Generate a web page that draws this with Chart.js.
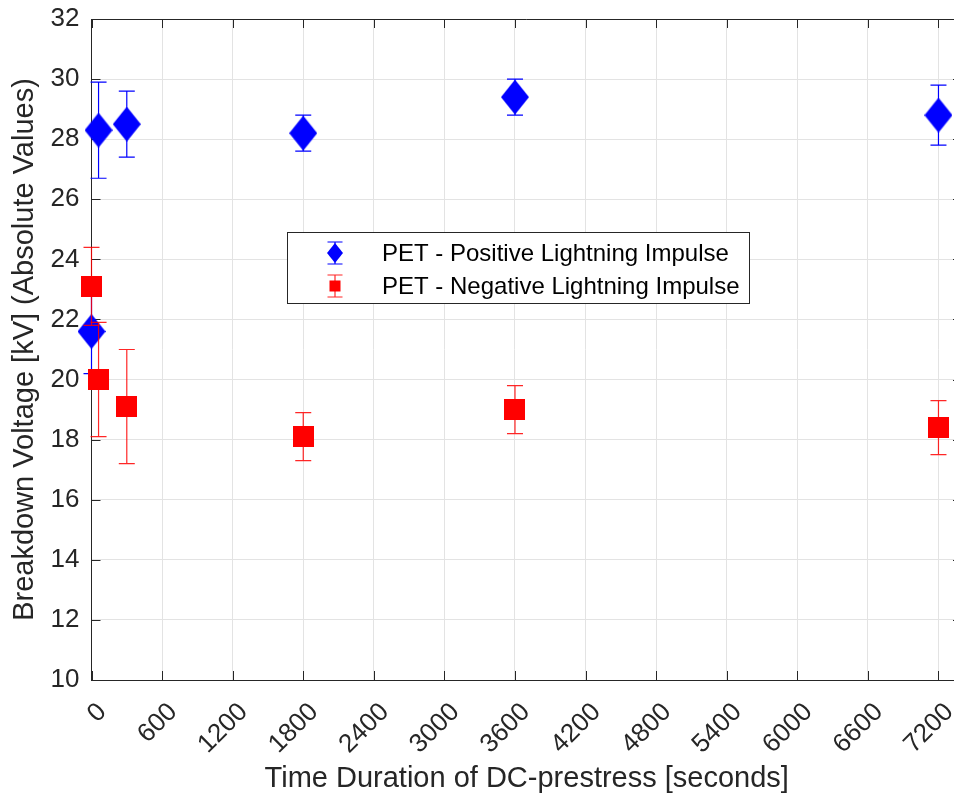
<!DOCTYPE html>
<html><head><meta charset="utf-8">
<script src="https://cdn.jsdelivr.net/npm/chart.js@4"></script>
<style>html,body{margin:0;padding:0;overflow:hidden;background:#fff}canvas{display:block}</style>
</head><body><canvas id="c" width="962" height="796" style="width:962px;height:796px"></canvas>
<script>
// ---- data ----
const timeSeconds = [0, 60, 300, 1800, 3600, 7200];
const positiveLI = [21.6, 28.3, 28.5, 28.2, 29.4, 28.8];
const positiveErr = [1.4, 1.6, 1.1, 0.6, 0.6, 1.0];
const negativeLI = [23.1, 20.0, 19.1, 18.1, 19.0, 18.4];
const negativeErr = [1.3, 1.9, 1.9, 0.8, 0.8, 0.9];
const xTicks = [0, 600, 1200, 1800, 2400, 3000, 3600, 4200, 4800, 5400, 6000, 6600, 7200];
const yTicks = [10, 12, 14, 16, 18, 20, 22, 24, 26, 28, 30, 32];
const seriesLabels = ['PET - Positive Lightning Impulse', 'PET - Negative Lightning Impulse'];
const xTitle = 'Time Duration of DC-prestress [seconds]';
const yTitle = 'Breakdown Voltage [kV] (Absolute Values)';

const FONT = "'Liberation Sans', Arial, sans-serif";
const AXC = '#262626';
const BLUE = '#0000ff';
const RED = '#ff0000';
const RED_BAR = 'rgba(255,0,0,0.85)';

function makeDiamond(w, h, color) {
  const c = document.createElement('canvas'); c.width = w; c.height = h;
  const g = c.getContext('2d'); g.fillStyle = color;
  g.beginPath(); g.moveTo(w/2, 0); g.lineTo(w, h/2); g.lineTo(w/2, h); g.lineTo(0, h/2); g.closePath(); g.fill();
  return c;
}
function makeSquare(s, color) {
  const c = document.createElement('canvas'); c.width = s; c.height = s;
  const g = c.getContext('2d'); g.fillStyle = color; g.fillRect(0, 0, s, s);
  return c;
}
const toPts = (xs, ys) => xs.map((x, i) => ({x: x, y: ys[i]}));

const errorBars = {
  id: 'errorBars',
  beforeDatasetDraw(chart, args) {
    const ds = chart.data.datasets[args.index];
    if (!ds.errors) return;
    const xs = chart.scales.x, ys = chart.scales.y, ctx = chart.ctx;
    ctx.save();
    ctx.strokeStyle = ds.errorColor; ctx.lineWidth = 1.2;
    ds.data.forEach((p, i) => {
      const px = xs.getPixelForValue(p.x);
      const yt = ys.getPixelForValue(p.y + ds.errors[i]);
      const yb = ys.getPixelForValue(p.y - ds.errors[i]);
      ctx.beginPath();
      ctx.moveTo(px, yt); ctx.lineTo(px, yb);
      ctx.moveTo(px - 8, yt); ctx.lineTo(px + 8, yt);
      ctx.moveTo(px - 8, yb); ctx.lineTo(px + 8, yb);
      ctx.stroke();
    });
    ctx.restore();
  }
};

const axesBox = {
  id: 'axesBox',
  beforeDatasetsDraw(chart) {
    const ca = chart.chartArea, ctx = chart.ctx, xs = chart.scales.x, ys = chart.scales.y;
    ctx.save();
    ctx.strokeStyle = AXC; ctx.lineWidth = 1;
    ctx.beginPath();
    ctx.moveTo(ca.left, Math.round(ca.top) + 0.5); ctx.lineTo(ca.right, Math.round(ca.top) + 0.5);
    ctx.moveTo(Math.round(ca.right) - 0.5, ca.top); ctx.lineTo(Math.round(ca.right) - 0.5, ca.bottom);
    xTicks.forEach(v => {
      const px = Math.round(xs.getPixelForValue(v)) + 0.5;
      ctx.moveTo(px, ca.bottom); ctx.lineTo(px, ca.bottom - 9);
      ctx.moveTo(px, ca.top); ctx.lineTo(px, ca.top + 9);
    });
    yTicks.forEach(v => {
      const py = Math.round(ys.getPixelForValue(v)) + 0.5;
      ctx.moveTo(ca.left, py); ctx.lineTo(ca.left + 9, py);
      ctx.moveTo(ca.right, py); ctx.lineTo(ca.right - 9, py);
    });
    ctx.stroke();
    ctx.restore();
  }
};

const boxLegend = {
  id: 'boxLegend',
  afterDraw(chart) {
    const ctx = chart.ctx;
    const L = 287.5, T = 232.5, W = 462, H = 71;
    ctx.save();
    ctx.fillStyle = '#fff'; ctx.fillRect(L, T, W, H);
    ctx.strokeStyle = AXC; ctx.lineWidth = 1; ctx.strokeRect(L, T, W, H);
    const mx = 335, r1 = 253, r2 = 286;
    ctx.strokeStyle = BLUE; ctx.lineWidth = 1.2;
    ctx.beginPath();
    ctx.moveTo(mx, r1 - 11); ctx.lineTo(mx, r1 + 11);
    ctx.moveTo(mx - 7.5, r1 - 11); ctx.lineTo(mx + 7.5, r1 - 11);
    ctx.moveTo(mx - 7.5, r1 + 11); ctx.lineTo(mx + 7.5, r1 + 11);
    ctx.stroke();
    ctx.fillStyle = BLUE;
    ctx.beginPath(); ctx.moveTo(mx, r1 - 10); ctx.lineTo(mx + 8, r1); ctx.lineTo(mx, r1 + 10); ctx.lineTo(mx - 8, r1); ctx.closePath(); ctx.fill();
    ctx.strokeStyle = RED_BAR;
    ctx.beginPath();
    ctx.moveTo(mx, r2 - 11); ctx.lineTo(mx, r2 + 11);
    ctx.moveTo(mx - 7.5, r2 - 11); ctx.lineTo(mx + 7.5, r2 - 11);
    ctx.moveTo(mx - 7.5, r2 + 11); ctx.lineTo(mx + 7.5, r2 + 11);
    ctx.stroke();
    ctx.fillStyle = RED; ctx.fillRect(mx - 5.5, r2 - 5.5, 11, 11);
    ctx.fillStyle = '#000'; ctx.font = '24px ' + FONT; ctx.textBaseline = 'middle'; ctx.textAlign = 'left';
    ctx.fillText(seriesLabels[0], 382, r1 + 1);
    ctx.fillText(seriesLabels[1], 382, r2 + 1);
    ctx.restore();
  }
};

Chart.defaults.font.family = FONT;
Chart.defaults.color = AXC;

new Chart(document.getElementById('c'), {
  type: 'scatter',
  data: {
    datasets: [
      { label: seriesLabels[0], data: toPts(timeSeconds, positiveLI), errors: positiveErr, errorColor: BLUE,
        pointStyle: makeDiamond(28, 35, BLUE), order: 1 },
      { label: seriesLabels[1], data: toPts(timeSeconds, negativeLI), errors: negativeErr, errorColor: RED_BAR,
        pointStyle: makeSquare(21, RED), order: 0 }
    ]
  },
  options: {
    responsive: false, animation: false,
    clip: false,
    layout: { padding: { top: 19, left: 0, right: 0, bottom: 0 }, autoPadding: false },
    plugins: { legend: { display: false }, tooltip: { enabled: false } },
    scales: {
      x: {
        type: 'linear', min: 0, max: 7400,
        afterBuildTicks: s => { s.ticks = xTicks.map(v => ({ value: v })); },
        afterFit: s => { s.height = 116; s.paddingLeft = 0; s.paddingRight = 0; },
        ticks: { minRotation: 45, maxRotation: 45, padding: 17, labelOffset: 11, font: { size: 26 }, color: AXC, autoSkip: false,
                 callback: v => String(v) },
        grid: { color: '#e3e3e3', drawTicks: false },
        border: { color: AXC, width: 1 },
        title: { display: true, text: xTitle, font: { size: 29 }, color: AXC, padding: { top: 0, bottom: 0 } }
      },
      y: {
        type: 'linear', min: 10, max: 32,
        afterBuildTicks: s => { s.ticks = yTicks.map(v => ({ value: v })); },
        afterFit: s => { s.width = 91.5; s.paddingTop = 0; s.paddingBottom = 0; },
        ticks: { padding: 12, font: { size: 26 }, color: AXC, callback: v => String(v) },
        grid: { color: '#e3e3e3', drawTicks: false },
        border: { color: AXC, width: 1 },
        title: { display: true, text: yTitle, font: { size: 29 }, color: AXC, padding: { top: 8, bottom: 0 } }
      }
    }
  },
  plugins: [errorBars, axesBox, boxLegend]
});
</script>
</body></html>
